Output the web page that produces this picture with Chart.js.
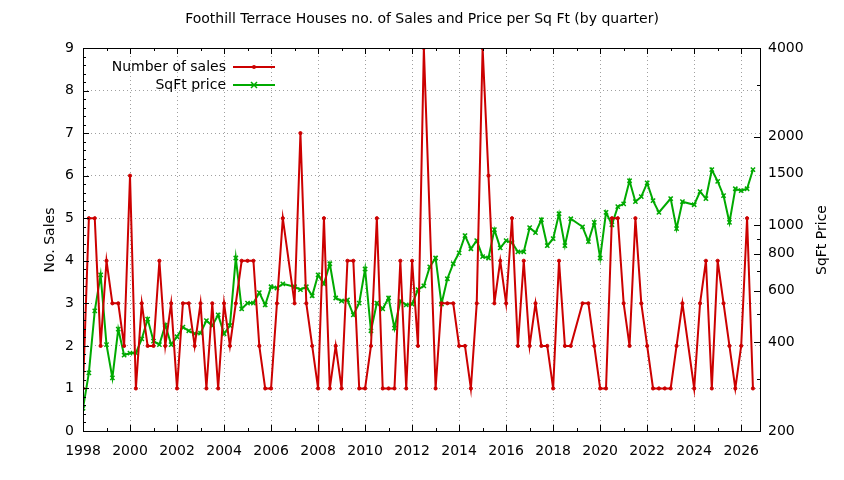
<!DOCTYPE html>
<html><head><meta charset="utf-8">
<script src="https://cdn.jsdelivr.net/npm/chart.js@4/dist/chart.umd.min.js"></script>
<style>html,body{margin:0;padding:0;background:#fff}#w{width:844px;height:480px}</style>
</head><body><div id="w"><canvas id="c"></canvas></div>
<script>
const salesX = [1998,1998.25,1998.5,1998.75,1999,1999.25,1999.5,1999.75,2000,2000.25,2000.5,2000.75,2001,2001.25,2001.5,2001.75,2002,2002.25,2002.5,2002.75,2003,2003.25,2003.5,2003.75,2004,2004.25,2004.5,2004.75,2005,2005.25,2005.5,2005.75,2006,2006.25,2006.5,2007,2007.25,2007.5,2007.75,2008,2008.25,2008.5,2008.75,2009,2009.25,2009.5,2009.75,2010,2010.25,2010.5,2010.75,2011,2011.25,2011.5,2011.75,2012,2012.25,2012.5,2013,2013.25,2013.5,2013.75,2014,2014.25,2014.5,2014.75,2015,2015.25,2015.5,2015.75,2016,2016.25,2016.5,2016.75,2017,2017.25,2017.5,2017.75,2018,2018.25,2018.5,2018.75,2019.25,2019.5,2019.75,2020,2020.25,2020.5,2020.75,2021,2021.25,2021.5,2021.75,2022,2022.25,2022.5,2022.75,2023,2023.25,2023.5,2024,2024.25,2024.5,2024.75,2025,2025.25,2025.5,2025.75,2026,2026.25,2026.5];
const sales = [1,5,5,2,4,3,3,2,6,1,3,2,2,4,2,3,1,3,3,2,3,1,3,1,3,2,3,4,4,4,2,1,1,3,5,3,7,3,2,1,5,1,2,1,4,4,1,1,2,5,1,1,1,4,1,4,2,9,1,3,3,3,2,2,1,3,9,6,3,4,3,5,2,4,2,3,2,2,1,4,2,2,3,3,2,1,1,5,5,3,2,5,3,2,1,1,1,1,2,3,1,3,4,1,4,3,2,1,2,5,1];
const priceX = [1998,1998.25,1998.5,1998.75,1999,1999.25,1999.5,1999.75,2000,2000.25,2000.5,2000.75,2001,2001.25,2001.5,2001.75,2002,2002.25,2002.5,2002.75,2003,2003.25,2003.5,2003.75,2004,2004.25,2004.5,2004.75,2005,2005.25,2005.5,2005.75,2006,2006.25,2006.5,2007,2007.25,2007.5,2007.75,2008,2008.25,2008.5,2008.75,2009,2009.25,2009.5,2009.75,2010,2010.25,2010.5,2010.75,2011,2011.25,2011.5,2011.75,2012,2012.25,2012.5,2012.75,2013,2013.25,2013.5,2013.75,2014,2014.25,2014.5,2014.75,2015,2015.25,2015.5,2015.75,2016,2016.25,2016.5,2016.75,2017,2017.25,2017.5,2017.75,2018,2018.25,2018.5,2018.75,2019.25,2019.5,2019.75,2020,2020.25,2020.5,2020.75,2021,2021.25,2021.5,2021.75,2022,2022.25,2022.5,2023,2023.25,2023.5,2024,2024.25,2024.5,2024.75,2025,2025.25,2025.5,2025.75,2026,2026.25,2026.5];
const price = [239,315,512,678,393,303,444,362,368,368,411,480,404,393,458,393,418,451,438,428,430,474,456,496,428,456,774,520,544,544,590,536,618,612,632,618,604,618,576,678,632,740,566,553,558,496,544,710,438,544,520,566,447,553,536,540,604,622,722,774,540,658,740,806,922,832,886,782,774,966,838,886,873,812,812,981,944,1044,852,900,1094,852,1052,988,880,1022,774,1106,1004,1156,1182,1416,1202,1250,1392,1212,1106,1232,974,1202,1174,1300,1232,1544,1410,1260,1022,1330,1310,1330,1544];
const priceTicks = [200,400,600,800,1000,1500,2000,4000];
const FONT = '"DejaVu Sans", sans-serif';
const PL=83, PR=760, PT=48, PB=431;

const deco = {
  id:'deco',
  afterDraw(ch){
    const c=ch.ctx, x=ch.scales.x, y=ch.scales.y, y2=ch.scales.y2;
    c.save();
    c.strokeStyle='#000'; c.lineWidth=1;
    c.strokeRect(x.left+0.5, y.top+0.5, x.right-x.left, y.bottom-y.top);
    c.beginPath();
    for(let v=1998; v<=2026; v+=2){const p=Math.round(x.getPixelForValue(v))+0.5; c.moveTo(p,y.bottom);c.lineTo(p,y.bottom-6);c.moveTo(p,y.top);c.lineTo(p,y.top+6);}
    for(let v=1999; v<=2026; v+=2){const p=Math.round(x.getPixelForValue(v))+0.5; c.moveTo(p,y.bottom);c.lineTo(p,y.bottom-3);c.moveTo(p,y.top);c.lineTo(p,y.top+3);}
    for(let v=0; v<=9; v+=0.2){const p=Math.round(y.getPixelForValue(v))+0.5; const L=Math.abs(v-Math.round(v))<1e-6?6:3; c.moveTo(x.left,p);c.lineTo(x.left+L,p);}
    for(let v=200; v<=4000; v+= (v<1000?100:1000)){const p=Math.round(y2.getPixelForValue(v))+0.5; const L=priceTicks.includes(v)?6:3; c.moveTo(x.right,p);c.lineTo(x.right-L,p);}
    c.stroke();
    c.fillStyle='#000'; c.font='14px '+FONT; c.textAlign='center'; c.textBaseline='middle';
    c.fillText('Foothill Terrace Houses no. of Sales and Price per Sq Ft (by quarter)', 422, 19);
    c.save(); c.translate(50,240); c.rotate(-Math.PI/2); c.fillText('No. Sales',0,0); c.restore();
    c.save(); c.translate(822,240); c.rotate(-Math.PI/2); c.fillText('SqFt Price',0,0); c.restore();
    c.textAlign='right';
    c.fillText('Number of sales', 226, 67);
    c.fillText('SqFt price', 226, 85);
    c.lineWidth=2;
    c.strokeStyle='#cc0000'; c.beginPath(); c.moveTo(233,67); c.lineTo(275,67); c.stroke();
    c.fillStyle='#cc0000'; c.beginPath(); c.arc(254,67,2,0,7); c.fill();
    c.strokeStyle='#00aa00'; c.beginPath(); c.moveTo(233,85); c.lineTo(275,85); c.stroke();
    c.lineWidth=1.5; c.beginPath(); c.moveTo(251,82);c.lineTo(257,88);c.moveTo(257,82);c.lineTo(251,88); c.stroke();
    c.restore();
  }
};

new Chart(document.getElementById('c'), {
  type:'line',
  data:{datasets:[
    {label:'Number of sales', data:salesX.map((v,i)=>({x:v,y:sales[i]})), yAxisID:'y', borderColor:'#cc0000', backgroundColor:'#cc0000', borderWidth:2, pointRadius:1.6, pointBorderWidth:1, pointHoverRadius:2, tension:0},
    {label:'SqFt price', data:priceX.map((v,i)=>({x:v,y:price[i]})), yAxisID:'y2', borderColor:'#00aa00', backgroundColor:'#00aa00', borderWidth:2, pointStyle:'crossRot', pointRadius:3, pointBorderWidth:1.5, tension:0}
  ]},
  options:{
    responsive:true, maintainAspectRatio:false, animation:false,
    layout:{padding:{top:PT, bottom:0, left:0, right:0}},
    plugins:{legend:{display:false}, tooltip:{enabled:false}, title:{display:false}},
    scales:{
      x:{type:'linear', min:1998, max:2026.8,
        afterBuildTicks:s=>{s.ticks=[];for(let v=1998;v<=2026;v+=2)s.ticks.push({value:v});},
        afterFit:s=>{s.height=480-PB;},
        border:{display:false, dash:[1,3]},
        grid:{color:'#a0a0a0', lineWidth:1, drawTicks:false},
        ticks:{color:'#000', font:{family:FONT,size:14}, padding:12, maxRotation:0, callback:v=>String(v)}},
      y:{type:'linear', position:'left', min:0, max:9,
        afterBuildTicks:s=>{s.ticks=[];for(let v=0;v<=9;v++)s.ticks.push({value:v});},
        afterFit:s=>{s.width=PL;},
        border:{display:false, dash:[1,3]},
        grid:{color:'#a0a0a0', lineWidth:1, drawTicks:false},
        ticks:{color:'#000', font:{family:FONT,size:14}, padding:9}},
      y2:{type:'logarithmic', position:'right', min:200, max:4000,
        afterBuildTicks:s=>{s.ticks=priceTicks.map(v=>({value:v}));},
        afterFit:s=>{s.width=844-PR;},
        border:{display:false},
        grid:{display:false, drawTicks:false},
        ticks:{color:'#000', font:{family:FONT,size:14}, padding:8, callback:v=>String(v)}}
    }
  },
  plugins:[deco]
});
</script></body></html>
